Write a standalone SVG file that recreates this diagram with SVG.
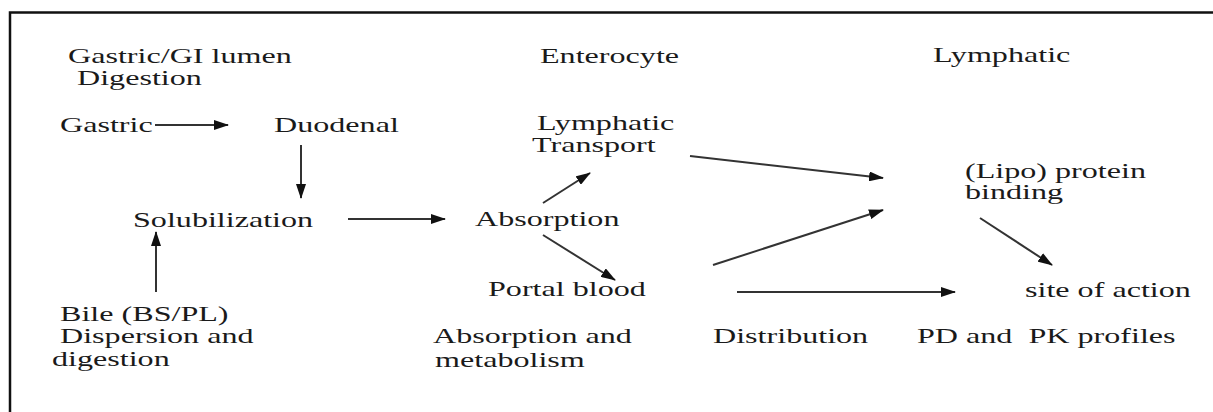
<svg xmlns="http://www.w3.org/2000/svg" width="1213" height="412" viewBox="0 0 1213 412">
<style>
.t{font-family:'Liberation Serif','DejaVu Serif',serif;font-size:22px;fill:#1a1a1a}
.c line{stroke:#333;stroke-width:2;fill:none;marker-end:url(#ah)}
.frame{stroke:#111;stroke-width:2.5;fill:none}
</style>
<defs>
<marker id="ah" markerUnits="userSpaceOnUse" markerWidth="15" markerHeight="10" refX="14" refY="5" orient="auto">
<path d="M0,0 L15,5 L0,10 Z" fill="#111"/>
</marker>
</defs>
<rect width="1213" height="412" fill="#fff"/>
<path class="frame" d="M10,412 L10,12.5 L1213,12.5"/>
<g id="headers">
<text class="t" font-family="Liberation Serif, serif" transform="matrix(1.46 0 0 1 68 63)">Gastric/GI lumen</text>
<text class="t" transform="matrix(1.46 0 0 1 77 85)">Digestion</text>
<text class="t" transform="matrix(1.46 0 0 1 540 63)">Enterocyte</text>
<text class="t" transform="matrix(1.46 0 0 1 933 62)">Lymphatic</text>
</g>
<g id="gastric"><text class="t" transform="matrix(1.46 0 0 1 60 132)">Gastric</text></g>
<g id="duodenal"><text class="t" transform="matrix(1.46 0 0 1 274 132)">Duodenal</text></g>
<g id="lymph-transport">
<text class="t" transform="matrix(1.46 0 0 1 537 130)">Lymphatic</text>
<text class="t" transform="matrix(1.46 0 0 1 532 152)">Transport</text>
</g>
<g id="solubilization"><text class="t" transform="matrix(1.46 0 0 1 133 227)">Solubilization</text></g>
<g id="absorption"><text class="t" transform="matrix(1.46 0 0 1 475 226)">Absorption</text></g>
<g id="lipo">
<text class="t" transform="matrix(1.46 0 0 1 965 178)">(Lipo) protein</text>
<text class="t" transform="matrix(1.46 0 0 1 965 199)">binding</text>
</g>
<g id="portal"><text class="t" transform="matrix(1.46 0 0 1 488 296)">Portal blood</text></g>
<g id="site"><text class="t" transform="matrix(1.46 0 0 1 1025 297)">site of action</text></g>
<g id="bile">
<text class="t" transform="matrix(1.46 0 0 1 60 321)">Bile (BS/PL)</text>
<text class="t" transform="matrix(1.46 0 0 1 60 343)">Dispersion and</text>
<text class="t" transform="matrix(1.46 0 0 1 52 366)">digestion</text>
</g>
<g id="footer">
<text class="t" transform="matrix(1.46 0 0 1 433 343)">Absorption and</text>
<text class="t" transform="matrix(1.46 0 0 1 435 367)">metabolism</text>
<text class="t" transform="matrix(1.46 0 0 1 713 343)">Distribution</text>
<text class="t" xml:space="preserve" transform="matrix(1.46 0 0 1 917 343)">PD and  PK profiles</text>
</g>
<g id="connectors" class="c">
<line x1="155" y1="125" x2="228" y2="125"/>
<line x1="301" y1="145" x2="301" y2="198"/>
<line x1="156" y1="292" x2="156" y2="232"/>
<line x1="348" y1="219" x2="445" y2="219"/>
<line x1="543" y1="203" x2="590" y2="173"/>
<line x1="543" y1="235" x2="615" y2="280"/>
<line x1="690" y1="156" x2="883" y2="178"/>
<line x1="713" y1="265" x2="883" y2="210"/>
<line x1="737" y1="292" x2="955" y2="292"/>
<line x1="980" y1="218" x2="1052" y2="265"/>
</g>
</svg>
